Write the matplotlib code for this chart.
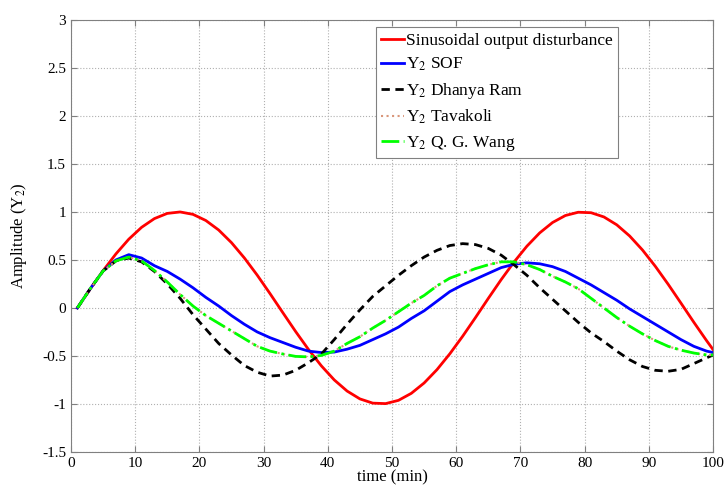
import numpy as np
import matplotlib
matplotlib.use("Agg")
import matplotlib.pyplot as plt

plt.rcParams["font.family"] = ["Liberation Serif", "DejaVu Serif"]
plt.rcParams["mathtext.fontset"] = "stix"

# time samples (min)
t = [1, 3, 5, 7, 9, 11, 13, 15, 17, 19, 21, 23, 25, 27, 29, 31, 33, 35, 37, 39,
     41, 43, 45, 47, 49, 51, 53, 55, 57, 59, 61, 63, 65, 67, 69, 71, 73, 75, 77, 79,
     81, 83, 85, 87, 89, 91, 93, 95, 97, 99, 100]

disturbance = [0.0, 0.198, 0.388, 0.563, 0.716, 0.840, 0.931, 0.985, 1.000, 0.975,
               0.911, 0.812, 0.680, 0.521, 0.342, 0.149, -0.050, -0.247, -0.434, -0.604,
               -0.750, -0.866, -0.948, -0.992, -0.997, -0.963, -0.890, -0.782, -0.643, -0.478,
               -0.295, -0.100, 0.100, 0.295, 0.478, 0.643, 0.782, 0.890, 0.963, 0.997,
               0.992, 0.948, 0.866, 0.750, 0.604, 0.434, 0.247, 0.050, -0.149, -0.342, -0.434]

sof = [0.0, 0.20, 0.385, 0.50, 0.555, 0.52, 0.44, 0.38, 0.30, 0.21,
       0.11, 0.02, -0.08, -0.17, -0.25, -0.31, -0.36, -0.41, -0.45, -0.465,
       -0.46, -0.43, -0.39, -0.33, -0.27, -0.20, -0.11, -0.03, 0.07, 0.17,
       0.24, 0.30, 0.36, 0.42, 0.455, 0.47, 0.46, 0.43, 0.38, 0.31,
       0.24, 0.16, 0.08, -0.01, -0.09, -0.17, -0.25, -0.33, -0.40, -0.45, -0.465]

dhanya = [0.0, 0.20, 0.385, 0.49, 0.52, 0.48, 0.38, 0.25, 0.10, -0.07,
          -0.22, -0.37, -0.49, -0.60, -0.67, -0.71, -0.70, -0.65, -0.57, -0.48,
          -0.33, -0.17, -0.02, 0.12, 0.23, 0.34, 0.44, 0.53, 0.60, 0.65,
          0.67, 0.66, 0.62, 0.55, 0.45, 0.34, 0.21, 0.09, -0.03, -0.15,
          -0.26, -0.35, -0.45, -0.54, -0.61, -0.65, -0.66, -0.64, -0.58, -0.52, -0.49]

tavakoli = [0.0, 0.20, 0.385, 0.49, 0.53, 0.49, 0.39, 0.27, 0.14, 0.02,
            -0.08, -0.16, -0.24, -0.32, -0.40, -0.45, -0.48, -0.505, -0.51, -0.495,
            -0.45, -0.37, -0.30, -0.21, -0.13, -0.04, 0.05, 0.13, 0.23, 0.31,
            0.36, 0.41, 0.45, 0.48, 0.48, 0.45, 0.40, 0.33, 0.27, 0.20,
            0.10, 0.00, -0.10, -0.19, -0.27, -0.34, -0.40, -0.44, -0.47, -0.49, -0.49]

qgwang = [0.0, 0.20, 0.385, 0.49, 0.53, 0.49, 0.39, 0.27, 0.14, 0.02,
          -0.08, -0.16, -0.24, -0.32, -0.40, -0.45, -0.48, -0.505, -0.51, -0.495,
          -0.45, -0.37, -0.30, -0.21, -0.13, -0.04, 0.05, 0.13, 0.23, 0.31,
          0.36, 0.41, 0.45, 0.48, 0.48, 0.45, 0.40, 0.33, 0.27, 0.20,
          0.10, 0.00, -0.10, -0.19, -0.27, -0.34, -0.40, -0.44, -0.47, -0.49, -0.49]

fig = plt.figure(figsize=(7.28, 4.88), dpi=100)
ax = fig.add_axes([0.0975, 0.074, 0.882, 0.885])

ax.plot(t, disturbance, color="#ff0000", lw=2.0, label="Sinusoidal output disturbance")
ax.plot(t, sof, color="#0000ff", lw=2.0, label="Y$_2$ SOF")
ax.plot(t, dhanya, color="black", lw=2.0, ls=(0, (3, 2)), label="Y$_2$ Dhanya Ram")
ax.plot(t, tavakoli, color="#d9967a", lw=1.5, ls=":", label="Y$_2$ Tavakoli")
ax.plot(t, qgwang, color="#00ff00", lw=2.0, ls="-.", label="Y$_2$ Q. G. Wang")

ax.set_xlim(0, 100)
ax.set_ylim(-1.5, 3)
ax.set_xticks(np.arange(0, 101, 10))
ax.set_yticks(np.arange(-1.5, 3.01, 0.5))
ax.set_yticklabels(["-1.5", "-1", "-0.5", "0", "0.5", "1", "1.5", "2", "2.5", "3"])
ax.grid(True, ls=":", color="#b0b0b0", lw=0.8)
ax.tick_params(direction="in", top=True, right=True, labelsize=11, color="#808080", length=4)
for s in ax.spines.values():
    s.set_color("#808080")
ax.set_xlabel("time (min)", fontsize=12, labelpad=0)
ax.set_ylabel("Amplitude (Y$_2$)", fontsize=12, labelpad=9)

leg = ax.legend(loc="upper left", bbox_to_anchor=(0.461, 1.003), fontsize=12.5,
                handlelength=1.35, handletextpad=0.1, borderpad=0.3, labelspacing=0.42,
                fancybox=False, framealpha=1, edgecolor="#808080")
leg.get_frame().set_linewidth(0.8)

fig.savefig("out.png", dpi=100)
